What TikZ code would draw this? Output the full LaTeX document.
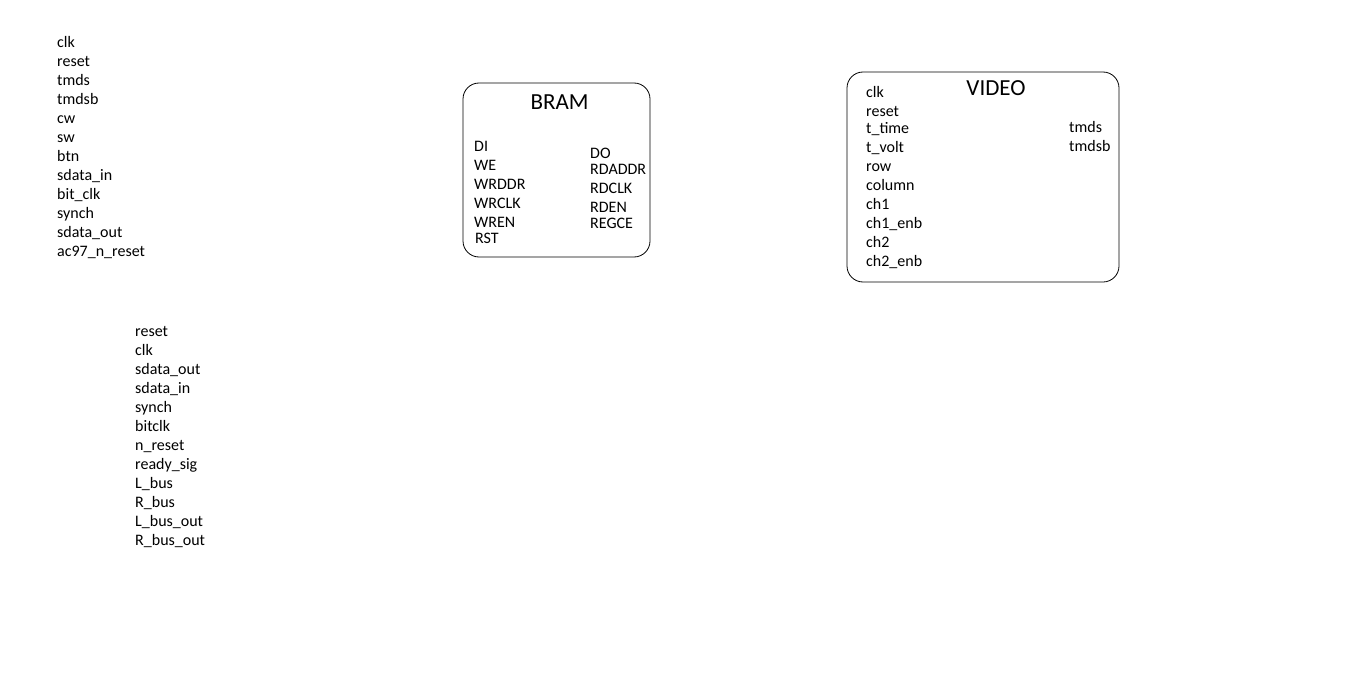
\documentclass[tikz,border=0pt]{standalone}
\usepackage{fontspec}
\setmainfont{Carlito}
\usepackage{tikz}
\usetikzlibrary{positioning}

\tikzset{
  sig/.style={anchor=base west, inner sep=0pt, font=\fontsize{16}{19}\selectfont},
  blockname/.style={anchor=base, inner sep=0pt, font=\fontsize{23}{27}\selectfont},
  block/.style={draw, line width=0.8pt, rounded corners=16pt, inner sep=0pt},
}

\begin{document}
\begin{tikzpicture}[x=1pt, y=-1pt]

% === Page (pixel grid) ===
\useasboundingbox (0,0) rectangle (1349,682);

% === Top-level ports ===
\foreach \name [count=\i from 0] in {clk, reset, tmds, tmdsb, cw, sw, btn,
    sdata\_in, bit\_clk, synch, sdata\_out, ac97\_n\_reset}
  \node[sig] (top-\i) at (57, 47.5+19*\i) {\name};

% === AC97 ports ===
\foreach \name [count=\i from 0] in {reset, clk, sdata\_out, sdata\_in, synch,
    bitclk, n\_reset, ready\_sig, L\_bus, R\_bus, L\_bus\_out, R\_bus\_out}
  \node[sig] (ac-\i) at (135, 336.5+19*\i) {\name};

% === BRAM block ===
\node[block, minimum width=187pt, minimum height=174pt] (bram) at (556.5, 170) {};
\node[blockname] (bram-title) at (559.5, 109.5) {BRAM};

% inputs
\node[sig] (bram-di)    at (474, 151.5) {DI};
\node[sig] (bram-we)    at (474, 170.5) {WE};
\node[sig] (bram-wrddr) at (474, 189.5) {WRDDR};
\node[sig] (bram-wrclk) at (474, 208.5) {WRCLK};
\node[sig] (bram-wren)  at (474, 227.5) {WREN};
\node[sig] (bram-rst)   at (475, 243.5) {RST};

% outputs
\node[sig] (bram-do)     at (590, 158.5) {DO};
\node[sig] (bram-rdaddr) at (590, 174.5) {RDADDR};
\node[sig] (bram-rdclk)  at (590, 193.5) {RDCLK};
\node[sig] (bram-rden)   at (590, 212.5) {RDEN};
\node[sig] (bram-regce)  at (590, 228.5) {REGCE};

% === VIDEO block ===
\node[block, minimum width=272pt, minimum height=210pt] (video) at (983, 177) {};
\node[blockname] (video-title) at (996, 95.5) {VIDEO};

% inputs
\node[sig] (vid-clk)    at (866,  97.5) {clk};
\node[sig] (vid-reset)  at (866, 116.5) {reset};
\node[sig] (vid-ttime)  at (866, 133.5) {t\_time};
\node[sig] (vid-tvolt)  at (866, 152.5) {t\_volt};
\node[sig] (vid-row)    at (866, 171.5) {row};
\node[sig] (vid-column) at (866, 190.5) {column};
\node[sig] (vid-ch1)    at (866, 209.5) {ch1};
\node[sig] (vid-ch1enb) at (866, 228.5) {ch1\_enb};
\node[sig] (vid-ch2)    at (866, 247.5) {ch2};
\node[sig] (vid-ch2enb) at (866, 266.5) {ch2\_enb};

% outputs
\node[sig] (vid-tmds)  at (1069, 132.5) {tmds};
\node[sig] (vid-tmdsb) at (1069, 151.5) {tmdsb};

\end{tikzpicture}
\end{document}
